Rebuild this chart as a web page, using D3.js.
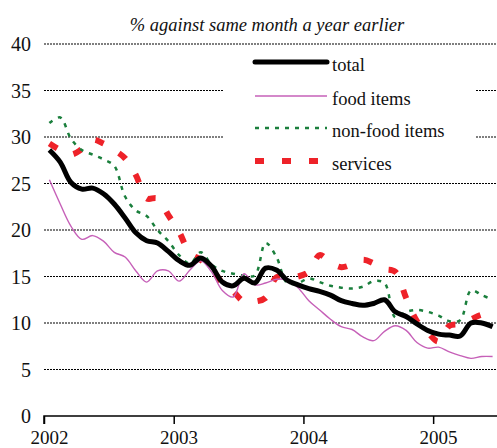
<!DOCTYPE html>
<html>
<head>
<meta charset="utf-8">
<script src="https://cdn.jsdelivr.net/npm/d3@7"></script>
<style>
  body { margin: 0; background: #fff; }
</style>
</head>
<body>
<div id="chart"></div>
<script>
// monthly, Jan 2002 .. Jun 2005
const years = ["2002", "2003", "2004", "2005"];
const yTicks = [0, 5, 10, 15, 20, 25, 30, 35, 40];

const total = [28.6, 27.3, 25.1, 24.4, 24.5, 23.9, 22.8, 21.3, 19.7, 18.85, 18.6, 17.7,
  16.7, 16.2, 17.0, 16.1, 14.4, 14.0, 14.8, 14.3, 15.9, 15.7, 14.6, 14.1,
  13.7, 13.4, 13.0, 12.4, 12.1, 11.9, 12.1, 12.5, 11.2, 10.7, 9.9, 9.2,
  8.8, 8.7, 8.6, 10.0, 10.0, 9.6];
const food = [25.4, 22.8, 20.4, 19.0, 19.4, 18.8, 17.6, 17.1, 15.6, 14.4, 15.6, 15.6,
  14.5, 15.7, 16.7, 15.5, 13.5, 12.8, 15.3, 14.1, 14.3, 14.7, 14.6, 13.8,
  12.4, 11.4, 10.4, 9.6, 9.3, 8.5, 8.1, 9.1, 9.7, 9.2, 7.9, 7.3,
  7.4, 6.9, 6.5, 6.2, 6.4, 6.4];
const nonFood = [31.5, 32.1, 29.8, 28.6, 28.1, 27.6, 26.9, 23.6, 22.1, 21.5, 20.0, 18.8,
  17.3, 16.4, 17.6, 16.3, 15.6, 15.3, 15.1, 15.1, 18.6, 17.1, 14.3, 14.3,
  14.8, 14.4, 14.0, 13.8, 13.7, 13.9, 14.5, 14.3, 10.6, 11.2, 11.4, 11.2,
  10.8, 10.2, 10.3, 13.5, 13.0, 12.5];
const services = [29.3, 28.6, 28.1, 28.7, 29.7, 29.3, 28.6, 27.7, 25.9, 23.4, 23.4, 21.6,
  19.8, 17.5, 16.8, 15.8, 14.3, 13.4, 12.3, 12.3, 12.7, 14.9, 14.9, 15.0,
  15.5, 17.3, 16.5, 16.0, 16.3, 16.8, 16.4, 15.8, 15.5, 12.7, 10.2, 9.0,
  8.0, 9.7, 9.9, 10.4, 10.9, 11.0];

const series = [
  {name: "total", values: total, color: "#000", width: 5, dash: null},
  {name: "food items", values: food, color: "#c660b8", width: 1.4, dash: null},
  {name: "non-food items", values: nonFood, color: "#1a7f3c", width: 2.5, dash: "4,6"},
  {name: "services", values: services, color: "#ee2229", width: 6, dash: "9,18"}
];

const font = "'Liberation Serif'";
const width = 497, height = 448;
const svg = d3.select("#chart").append("svg")
    .attr("width", width)
    .attr("height", height);

const x = d3.scaleLinear().domain([0, 42]).range([44, 498]);
const y = d3.scaleLinear().domain([0, 40]).range([416, 44]);

// gridlines
svg.append("g")
  .selectAll("line")
  .data(yTicks.filter(d => d > 0))
  .enter().append("line")
    .attr("x1", x(0)).attr("x2", width)
    .attr("y1", d => y(d)).attr("y2", d => y(d))
    .attr("stroke", "#000")
    .attr("stroke-width", 1.2)
    .attr("stroke-dasharray", "2,1");

// y labels
svg.append("g")
  .selectAll("text")
  .data(yTicks)
  .enter().append("text")
    .attr("x", 31)
    .attr("y", d => y(d))
    .attr("dy", "0.35em")
    .attr("text-anchor", "end")
    .style("font-family", font)
    .style("font-size", "20px")
    .style("fill", "#111")
    .text(d => d);

// x axis
const xAxis = svg.append("g")
    .attr("transform", "translate(0," + y(0) + ")")
    .call(d3.axisBottom(x).tickValues([0, 12, 24, 36]).tickSize(8).tickFormat(""));
xAxis.select(".domain").attr("d", "M" + x(0) + ",8V0H" + width).attr("stroke-width", 1.5);
xAxis.selectAll(".tick line").attr("stroke-width", 1.5);

svg.append("g")
  .selectAll("text")
  .data(years)
  .enter().append("text")
    .attr("x", (d, i) => x(i * 12 + 0.5))
    .attr("y", 444)
    .attr("text-anchor", "middle")
    .style("font-family", font)
    .style("font-size", "19px")
    .style("fill", "#111")
    .text(d => d);

// title
svg.append("text")
    .attr("x", 267)
    .attr("y", 31)
    .attr("text-anchor", "middle")
    .style("font-family", font)
    .style("font-size", "18.5px")
    .style("font-style", "italic")
    .style("fill", "#111")
    .text("% against same month a year earlier");

// legend box hides gridlines
svg.append("rect")
    .attr("x", 223).attr("y", 50)
    .attr("width", 252).attr("height", 126)
    .attr("fill", "#fff");

const line = d3.line()
    .x((d, i) => x(i + 0.5))
    .y(d => y(d))
    .curve(d3.curveCatmullRom);

svg.selectAll(".series")
  .data(series.slice().reverse())
  .enter().append("path")
    .attr("class", "series")
    .attr("d", d => line(d.values))
    .attr("fill", "none")
    .attr("stroke", d => d.color)
    .attr("stroke-width", d => d.width)
    .attr("stroke-dasharray", d => d.dash)
    .attr("stroke-linejoin", "round");

// legend
const legY = [62, 96, 128, 161];
const leg = svg.selectAll(".legend")
  .data(series)
  .enter().append("g")
    .attr("class", "legend")
    .attr("transform", (d, i) => "translate(0," + legY[i] + ")");

leg.append("line")
    .attr("x1", 255).attr("x2", 327)
    .attr("stroke", d => d.color)
    .attr("stroke-width", d => d.width)
    .attr("stroke-dasharray", d => d.dash)
    .attr("stroke-linecap", d => d.name === "total" ? "round" : "butt");

leg.append("text")
    .attr("x", 332)
    .attr("y", 9)
    .style("font-family", font)
    .style("font-size", "18.5px")
    .style("fill", "#111")
    .text(d => d.name);
</script>
</body>
</html>
